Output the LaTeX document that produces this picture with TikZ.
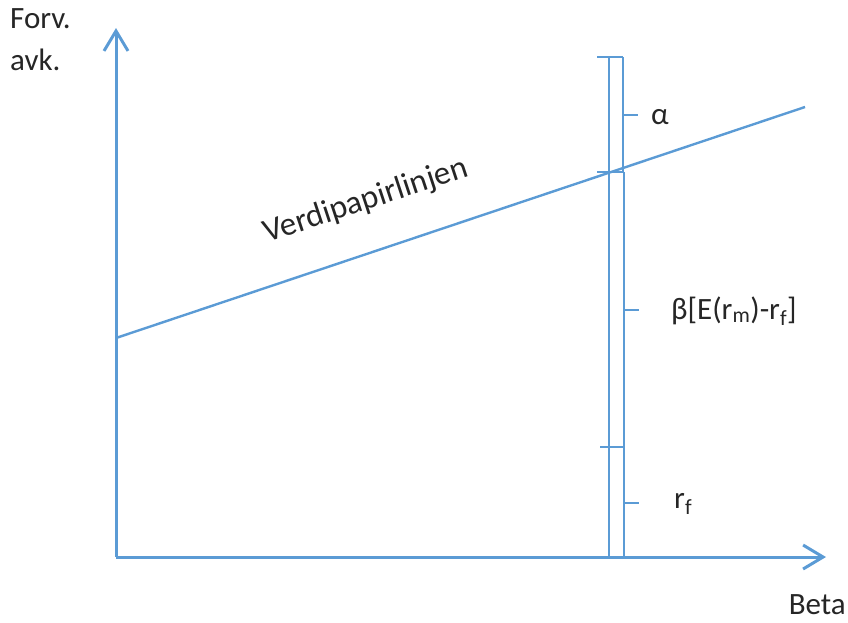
\documentclass[tikz,border=0pt]{standalone}
\usepackage{fontspec}
\setmainfont{Carlito}
\usetikzlibrary{arrows.meta}

\definecolor{axisblue}{HTML}{5B9BD5}

\begin{document}
\begin{tikzpicture}[
  x=1pt, y=-1pt,
  axis/.style={
    draw=axisblue,
    line width=3pt,
    -{Straight Barb[length=20pt,width=24pt,line width=3pt]}
  },
  sml/.style={
    draw=axisblue,
    line width=2.4pt
  },
  bar/.style={
    draw=axisblue,
    line width=2.4pt
  },
  lbl/.style={
    font=\fontsize{31}{36}\selectfont,
    inner sep=0pt,
    text=black!85
  }
]
\useasboundingbox (0,0) rectangle (848,622);

% --------------------
% Axes
% --------------------
\coordinate (origo) at (116,557);
\coordinate (ytop) at (116,28);
\coordinate (xend) at (826,557);

\draw[axis] (origo) -- (ytop);
\draw[axis] (origo) -- (xend);

\node[lbl, anchor=north west, align=left] (yaxlbl) at (10,8)
{Forv.\\[6pt]avk.};
\node[lbl, anchor=north east] (xaxlbl) at (846,594) {Beta};

% --------------------
% Security market line
% --------------------
\coordinate (smlstart) at (116,338);
\coordinate (smlend) at (805,107);
\draw[sml] (smlstart) -- (smlend);

\node[lbl, font=\fontsize{33}{38}\selectfont, rotate=18.3] (smllbl)
  at (366,201) {Verdipapirlinjen};

% --------------------
% Split bar
% --------------------
\coordinate (btop) at (609,57);
\coordinate (bmid) at (609,172);
\coordinate (blow) at (609,447);
\coordinate (bbot) at (609,557);

\draw[bar] (btop) -- (bbot);
\draw[bar] ([xshift=14pt]btop) -- ([xshift=14pt]bmid);
\draw[bar] ([xshift=15pt]bmid) -- ([xshift=15pt]bbot);
\draw[bar] ([xshift=-12pt]btop) -- ([xshift=14pt]btop);
\draw[bar] ([xshift=-12pt]bmid) -- ([xshift=15pt]bmid);
\draw[bar] ([xshift=-9pt]blow) -- ([xshift=15pt]blow);

% ticks at the middle of each part
\coordinate (ta) at (623,115);
\coordinate (tb) at (624,310);
\coordinate (tc) at (624,503);
\draw[bar] (ta) -- ++(15,0);
\draw[bar] (tb) -- ++(15,0);
\draw[bar] (tc) -- ++(15,0);

% --------------------
% Labels
% --------------------
\node[lbl, anchor=west] (alpha) at (651,117) {α};
\node[lbl, anchor=west] (premie) at (671,311)
{β[E(r\textsubscript{m})-r\textsubscript{f}]};
\node[lbl, anchor=west] (rente) at (674,504) {r\textsubscript{f}};

\end{tikzpicture}
\end{document}
